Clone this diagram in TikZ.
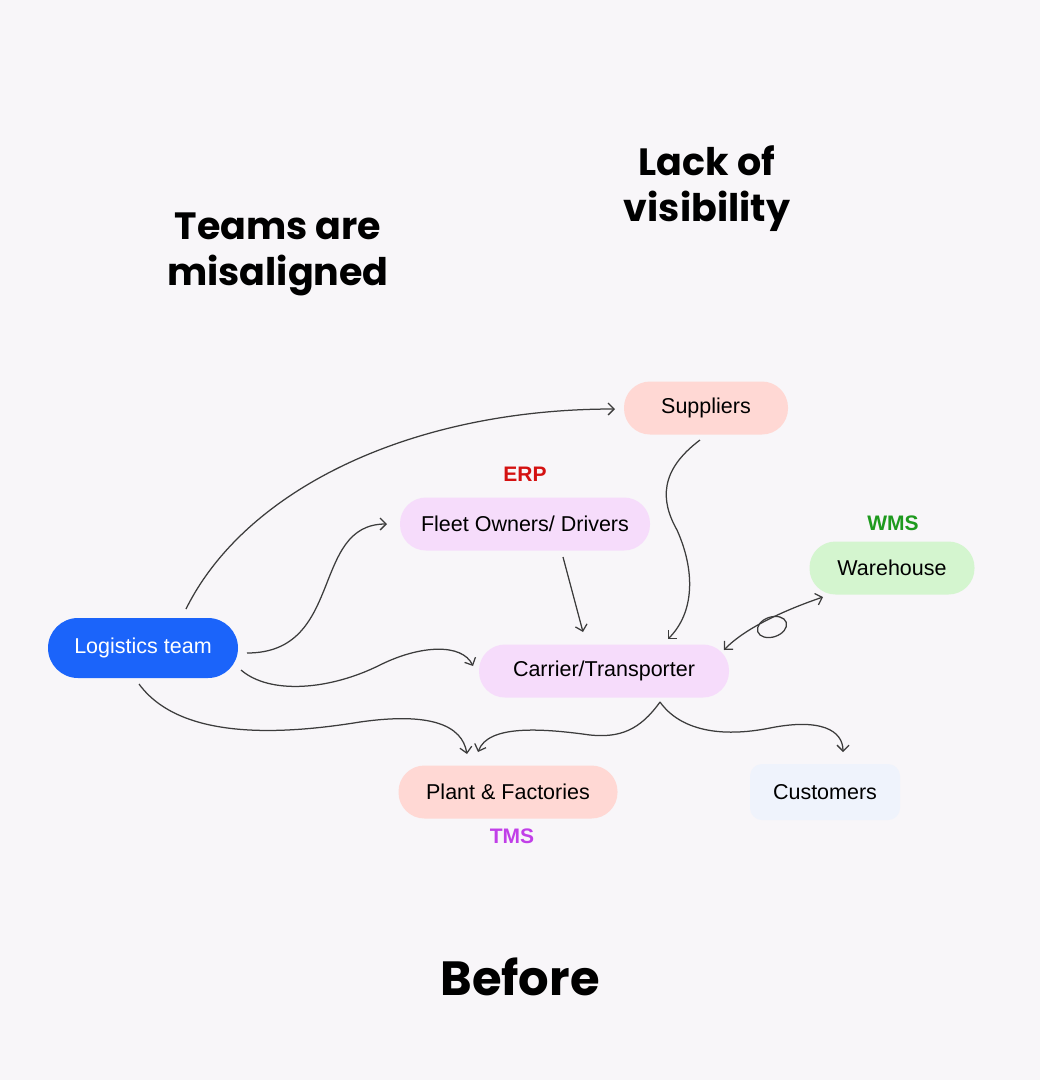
\documentclass[tikz,border=0pt]{standalone}
\usepackage{fontspec}
\setmainfont{Liberation Sans}
\newfontfamily\titlefont{Poppins}
\usetikzlibrary{arrows.meta}
\definecolor{bgc}{HTML}{F8F6F9}
\definecolor{bluec}{HTML}{1B64FA}
\definecolor{pinkc}{HTML}{FFD8D4}
\definecolor{lavc}{HTML}{F6DCFB}
\definecolor{greenc}{HTML}{D4F5CF}
\definecolor{custc}{HTML}{EFF3FC}
\definecolor{erpc}{HTML}{D41111}
\definecolor{wmsc}{HTML}{1E9A1E}
\definecolor{tmsc}{HTML}{C13FE8}
\definecolor{linec}{HTML}{3C3C3C}
\begin{document}
\begin{tikzpicture}[x=1pt,y=-1pt,
  box/.style={rounded corners=26pt, minimum height=53pt, inner sep=0pt,
    font=\fontsize{21.5}{24}\selectfont, text=black},
  tip/.tip={Straight Barb[length=6pt,width=12pt]},
  conn/.style={draw=linec, line width=1.25pt, -tip},
  tag/.style={font=\bfseries\fontsize{21}{24}\selectfont},
  headline/.style={font=\titlefont\bfseries\fontsize{38}{46}\selectfont, align=center, text=black}]
\path[fill=bgc] (0,0) rectangle (1040,1080);
\useasboundingbox (0,0) rectangle (1040,1080);

% titles
\node[headline] (t1) at (278,254) {Teams are\\misaligned};
\node[headline] (t2) at (707,189) {Lack of\\visibility};
\node[headline, font=\titlefont\bfseries\fontsize{48}{56}\selectfont] (t3) at (520,977) {Before};

% nodes
\node[box, fill=bluec, text=white, minimum width=190pt, minimum height=60pt, rounded corners=30pt] (log) at (143,648) {Logistics team};
\node[box, fill=pinkc, minimum width=164pt] (sup) at (706,408) {Suppliers};
\node[box, fill=lavc, minimum width=250pt] (fleet) at (525,524) {Fleet Owners/ Drivers};
\node[box, fill=lavc, minimum width=250pt] (car) at (604,671) {Carrier/Transporter};
\node[box, fill=greenc, minimum width=165pt] (wh) at (892,568) {Warehouse};
\node[box, fill=pinkc, minimum width=219pt] (plant) at (508,792) {Plant \& Factories};
\node[box, fill=custc, minimum width=150pt, minimum height=56pt, rounded corners=12pt] (cust) at (825,792) {Customers};

% tags
\node[tag, text=erpc] (erp) at (525,474) {ERP};
\node[tag, text=wmsc] (wms) at (893,523) {WMS};
\node[tag, text=tmsc] (tms) at (512,836) {TMS};

% anchor coordinates
\coordinate (l1) at (186,609);
\coordinate (l2) at (247,653);
\coordinate (l3) at (241,670);
\coordinate (l4) at (139,684);
\coordinate (s1) at (615,409);
\coordinate (f1) at (387,524);
\coordinate (f2) at (563,557);
\coordinate (c1) at (473,666);
\coordinate (c2) at (583,632);
\coordinate (c3) at (668,639);
\coordinate (c4) at (660,702);
\coordinate (c5) at (724,650);
\coordinate (p1) at (467,754);
\coordinate (p2) at (478,752);
\coordinate (u1) at (843,752);
\coordinate (su1) at (700,440);
\coordinate (w1) at (823,597);

% connectors
\draw[conn] (l1) .. controls (245,490) and (410,409) .. (s1);
\draw[conn] (l2) .. controls (345,653) and (310,524) .. (f1);
\draw[conn] (l3) .. controls (270,695) and (330,690) .. (380,665)
               .. controls (420,645) and (462,643) .. (c1);
\draw[conn] (l4) .. controls (180,740) and (280,735) .. (360,722)
               .. controls (430,712) and (462,725) .. (p1);
\draw[conn] (c4) .. controls (640,730) and (620,738) .. (590,735)
               .. controls (540,728) and (488,725) .. (p2);
\draw[conn] (c4) .. controls (680,730) and (720,738) .. (770,728)
               .. controls (820,718) and (843,730) .. (u1);
\draw[conn] (su1) .. controls (660,470) and (660,500) .. (677,530)
                .. controls (695,570) and (695,612) .. (c3);
\draw[conn] (f2) -- (c2);
\draw[conn, tip-tip] (c5) .. controls (745,628) and (785,610) .. (w1);
\draw[draw=linec, line width=1.25pt] (772,627) ellipse [x radius=15pt, y radius=10pt, rotate=18];
\end{tikzpicture}
\end{document}
